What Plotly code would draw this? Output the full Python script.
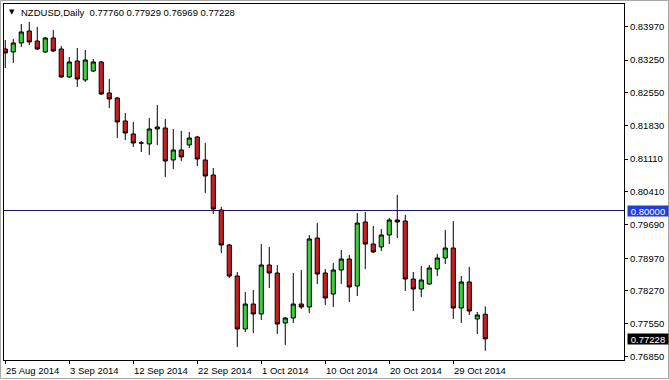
import plotly.graph_objects as go

# ---- data (NZDUSD daily, 25 Aug 2014 - 3 Nov 2014, broker with Sunday bars) ----
bar_index = list(range(61))
opens = [0.83488, 0.83424, 0.83618, 0.83877, 0.83661, 0.83424, 0.83726, 0.83488, 0.82884, 0.83229,
         0.82819, 0.83012, 0.83208, 0.82538, 0.82430, 0.81934, 0.81653, 0.81458, 0.81437, 0.81761,
         0.81782, 0.81091, 0.81307, 0.81415, 0.81588, 0.81091, 0.80767, 0.80011, 0.79255, 0.78585,
         0.77440, 0.77980, 0.77765, 0.78823, 0.78650, 0.77570, 0.77678, 0.77980, 0.77916, 0.79406,
         0.78650, 0.78196, 0.78715, 0.78952, 0.78369, 0.79752, 0.79276, 0.79212, 0.79471, 0.79795,
         0.79773, 0.78520, 0.78304, 0.78412, 0.78736, 0.78974, 0.79190, 0.77894, 0.78456, 0.77657,
         0.77760]
highs = [0.83683, 0.83704, 0.84028, 0.84072, 0.83964, 0.83748, 0.83899, 0.83553, 0.83316, 0.83510,
         0.83467, 0.83272, 0.83229, 0.82840, 0.82452, 0.82106, 0.81912, 0.81501, 0.81999, 0.82279,
         0.81977, 0.81761, 0.81717, 0.81696, 0.81610, 0.81458, 0.80918, 0.80076, 0.79276, 0.78672,
         0.78240, 0.78283, 0.79276, 0.79212, 0.78823, 0.77700, 0.78650, 0.78715, 0.79471, 0.79730,
         0.78736, 0.78866, 0.79147, 0.79039, 0.79946, 0.79968, 0.79665, 0.79600, 0.79838, 0.80335,
         0.79903, 0.78672, 0.78801, 0.78823, 0.79061, 0.79579, 0.79773, 0.78585, 0.78780, 0.77808,
         0.77929]
lows = [0.83078, 0.83186, 0.83532, 0.83575, 0.83467, 0.83402, 0.83424, 0.82862, 0.82862, 0.82668,
        0.82776, 0.82991, 0.82495, 0.82214, 0.81566, 0.81523, 0.81372, 0.81264, 0.81199, 0.81415,
        0.80724, 0.80896, 0.81069, 0.81350, 0.80961, 0.80378, 0.79925, 0.79082, 0.78542, 0.77052,
        0.77376, 0.77354, 0.77635, 0.78326, 0.77333, 0.77095, 0.77570, 0.77873, 0.77786, 0.78412,
        0.77959, 0.77916, 0.78412, 0.78024, 0.78153, 0.78736, 0.79082, 0.79125, 0.79276, 0.79406,
        0.78261, 0.77829, 0.78132, 0.78400, 0.78585, 0.78844, 0.77657, 0.77570, 0.77743, 0.77333,
        0.76969]
closes = [0.83402, 0.83618, 0.83856, 0.83640, 0.83488, 0.83726, 0.83445, 0.82884, 0.83208, 0.82840,
          0.83251, 0.83208, 0.82516, 0.82408, 0.81912, 0.81674, 0.81458, 0.81458, 0.81761, 0.81804,
          0.81069, 0.81307, 0.81156, 0.81566, 0.81112, 0.80745, 0.80032, 0.79255, 0.78585, 0.77440,
          0.77980, 0.77765, 0.78823, 0.78650, 0.77548, 0.77678, 0.77980, 0.77916, 0.79385, 0.78628,
          0.78110, 0.78715, 0.78952, 0.78348, 0.79730, 0.79276, 0.79104, 0.79471, 0.79795, 0.79752,
          0.78520, 0.78304, 0.78499, 0.78758, 0.78974, 0.79190, 0.77894, 0.78456, 0.77829, 0.77743,
          0.77228]

xtick_index = [0, 8, 16, 24, 32, 40, 48, 56]
xtick_labels = ["25 Aug 2014", "3 Sep 2014", "12 Sep 2014", "22 Sep 2014",
                "1 Oct 2014", "10 Oct 2014", "20 Oct 2014", "29 Oct 2014"]
ytick_values = [0.83970, 0.83250, 0.82550, 0.81830, 0.81110, 0.80410,
                0.79690, 0.78970, 0.78270, 0.77550, 0.76850]
level_line = 0.80000
title_text = "NZDUSD,Daily  0.77760 0.77929 0.76969 0.77228"

FONT = "Liberation Sans"
FS = 9.5

fig = go.Figure()
fig.add_trace(go.Candlestick(
    x=bar_index, open=opens, high=highs, low=lows, close=closes,
    increasing=dict(fillcolor="#3ccf3c", line=dict(color="black", width=1)),
    decreasing=dict(fillcolor="#cc2020", line=dict(color="black", width=1)),
    whiskerwidth=0, hoverinfo="skip", showlegend=False,
))

# horizontal level
fig.add_shape(type="line", xref="paper", x0=0, x1=1, yref="y", y0=level_line, y1=level_line,
              line=dict(color="#16166a", width=1), layer="below")

annotations = []
for xi, lab in zip(xtick_index, xtick_labels):
    annotations.append(dict(x=xi, xref="x", y=-0.0281, yref="paper", text=lab,
                            xanchor="left", yanchor="middle", showarrow=False,
                            font=dict(family=FONT, size=FS, color="black"), xshift=-1))
# price labels on right axis
annotations.append(dict(x=1.0048, xref="paper", y=level_line, yref="y", text=f"{level_line:.5f}",
                        xanchor="left", yanchor="middle", showarrow=False, bgcolor="#1f3fd8",
                        width=40, height=10, borderpad=0,
                        font=dict(family=FONT, size=FS, color="white")))
annotations.append(dict(x=1.0048, xref="paper", y=closes[-1], yref="y", text=f"{closes[-1]:.5f}",
                        xanchor="left", yanchor="middle", showarrow=False, bgcolor="black",
                        width=40, height=10, borderpad=0,
                        font=dict(family=FONT, size=FS, color="white")))
# title
annotations.append(dict(x=0.0129, xref="paper", y=0.9775, yref="paper", text="▼",
                        xanchor="center", yanchor="middle", showarrow=False,
                        font=dict(family="DejaVu Sans", size=7, color="black")))
annotations.append(dict(x=0.0245, xref="paper", y=0.9761, yref="paper", text=title_text,
                        xanchor="left", yanchor="middle", showarrow=False,
                        font=dict(family=FONT, size=FS, color="black")))

# outer grey frame
fig.add_shape(type="rect", xref="paper", yref="paper",
              x0=-3.5 / 620, x1=664.5 / 620, y0=(360 - 378.5) / 356, y1=(360 - 0.5) / 356,
              line=dict(color="#a8a8a8", width=1))

fig.update_layout(
    width=669, height=380,
    margin=dict(l=4, r=45, t=4, b=20),
    paper_bgcolor="white", plot_bgcolor="white",
    boxgap=0.28, boxgroupgap=0.28,
    font=dict(family=FONT, size=FS, color="black"),
    annotations=annotations,
    xaxis=dict(range=[-0.16, 77.34], rangeslider=dict(visible=False), showgrid=False, zeroline=False,
               showline=True, linecolor="black", linewidth=1, mirror=True,
               tickmode="array", tickvals=xtick_index, ticktext=[""] * len(xtick_index),
               ticks="outside", ticklen=3, tickcolor="black", showticklabels=False),
    yaxis=dict(range=[0.76771, 0.84460], side="right", showgrid=False, zeroline=False,
               showline=True, linecolor="black", linewidth=1, mirror=True,
               tickmode="array", tickvals=ytick_values,
               ticktext=[f"{v:.5f}" for v in ytick_values],
               ticks="outside", ticklen=3, tickcolor="black",
               tickfont=dict(family=FONT, size=FS, color="black")),
)

fig.write_html("out.html", config={"displayModeBar": False})
